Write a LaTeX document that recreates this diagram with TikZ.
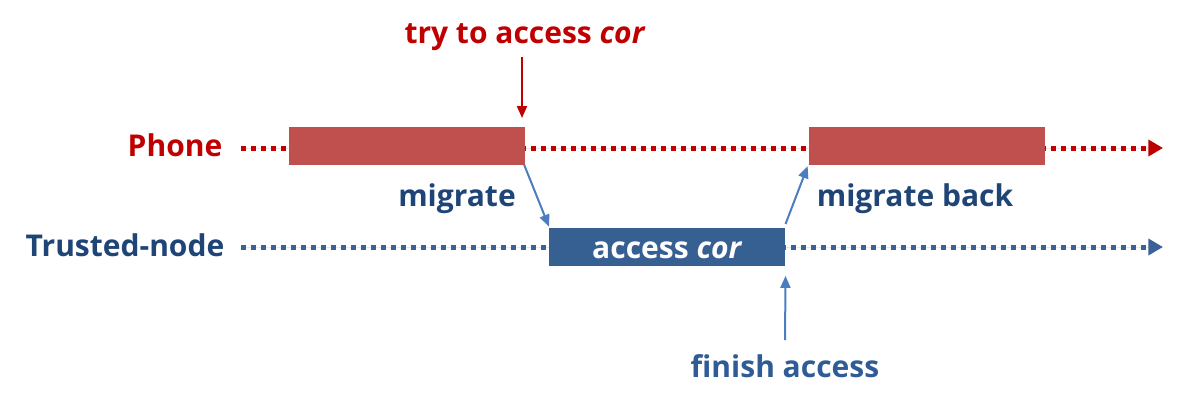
\documentclass[tikz,border=0pt]{standalone}
\usepackage{fontspec}
\setmainfont{Open Sans}
\usetikzlibrary{arrows.meta}
\definecolor{phred}{HTML}{C00000}
\definecolor{boxred}{HTML}{C0504D}
\definecolor{tblue}{HTML}{1F4577}
\definecolor{lblue}{HTML}{2F5C96}
\definecolor{boxblue}{HTML}{376092}
\definecolor{arrblue}{HTML}{4A7EBE}
\definecolor{dotblue}{HTML}{3A6298}
\tikzset{
  lbl/.style={font=\fontsize{22.5}{26}\selectfont\bfseries, inner sep=0pt},
  timeline/.style={line width=3.75pt, dash pattern=on 4pt off 3.5pt, -{Triangle[length=11pt,width=12pt]}},
  bar/.style={minimum width=177pt, minimum height=28pt, inner sep=0pt, anchor=north west},
  thin/.style={line width=1.5pt, -{Triangle[length=9pt,width=7.5pt]}},
}
\begin{document}
\begin{tikzpicture}[x=0.75pt,y=-0.75pt]
\useasboundingbox (0,0) rectangle (1180,404);
% labels
\node[lbl, text=phred] (phone) at (175,145) {Phone};
\node[lbl, text=tblue] (tnode) at (125,245) {Trusted-node};
\node[lbl, text=phred] (try) at (525,37) {try to access \textit{cor}};
\node[lbl, text=tblue] (mig) at (457,199) {migrate};
\node[lbl, text=tblue] (migb) at (915,199) {migrate back};
\node[lbl, text=lblue] (fin) at (785,366) {finish access};
% timeline endpoints
\coordinate (ps) at (241,148);
\coordinate (pe) at (1163,148);
\coordinate (ts) at (241,247);
\coordinate (te) at (1163,247);
\draw[timeline, draw=phred, fill=phred] (ps) -- (pe);
\draw[timeline, draw=dotblue, fill=dotblue] (ts) -- (te);
% bars
\node[bar, fill=boxred] (b1) at (289,127) {};
\node[bar, fill=boxred] (b2) at (809,127) {};
\node[bar, fill=boxblue, minimum height=28.5pt] (b3) at (549,228) {};
\node[lbl, text=white] (b3t) at ([yshift=-2.5pt]b3.center) {access \textit{cor}};
% arrows
\coordinate (tryend) at (522,57);
\coordinate (trytip) at (522,118);
\draw[line width=1.5pt, draw=phred, -{Triangle[length=9pt,width=7.5pt]}, fill=phred] (tryend) -- (trytip);
\draw[thin, draw=arrblue, fill=arrblue] ([xshift=-1pt]b1.south east) -- ([yshift=1pt]b3.north west);
\draw[thin, draw=arrblue, fill=arrblue] ([yshift=3pt]b3.north east) -- ([xshift=-1pt,yshift=-1pt]b2.south west);
\coordinate (finstart) at (785,340);
\draw[thin, draw=arrblue, fill=arrblue] (finstart) -- ([yshift=-7pt]b3.south east);
\end{tikzpicture}
\end{document}
